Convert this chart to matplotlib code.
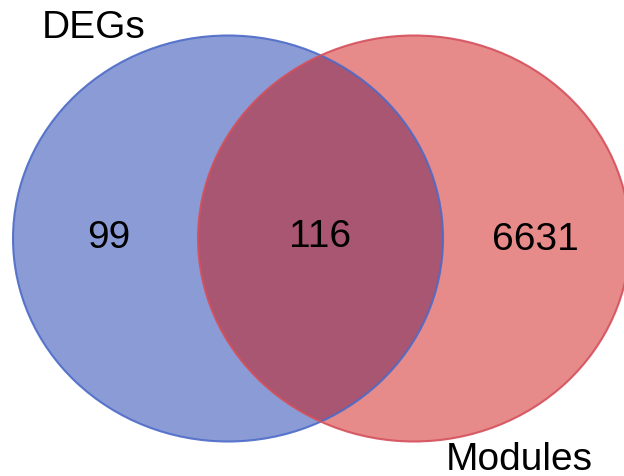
import matplotlib
matplotlib.use("Agg")
import matplotlib.pyplot as plt
from matplotlib.patches import Ellipse

set_names = ["DEGs", "Modules"]
counts = ["99", "116", "6631"]  # only DEGs, both, only Modules

plt.rcParams['font.family'] = ['Liberation Sans', 'DejaVu Sans']

fig = plt.figure(figsize=(6.24, 4.77), dpi=100)
ax = fig.add_axes([0, 0, 1, 1])
ax.set_xlim(0, 624)
ax.set_ylim(477, 0)
ax.axis('off')

blue_fill = '#8b9bd6'
red_fill = '#e68a8a'
mid_fill = '#a85671'
blue_edge = '#4d6bc8'
red_edge = '#d4505c'

bc, bw, bh = (228, 239.5), 430, 406
rc, rw, rh = (414, 239.5), 432, 406

b = Ellipse(bc, bw, bh, facecolor=blue_fill, edgecolor='none', zorder=1)
r = Ellipse(rc, rw, rh, facecolor=red_fill, edgecolor='none', zorder=2)
ax.add_patch(b)
ax.add_patch(r)
m = Ellipse(bc, bw, bh, facecolor=mid_fill, edgecolor='none', zorder=3)
ax.add_patch(m)
m.set_clip_path(r)
be = Ellipse(bc, bw, bh, facecolor='none', edgecolor=blue_edge, lw=1.5, zorder=4, alpha=0.9)
re = Ellipse(rc, rw, rh, facecolor='none', edgecolor=red_edge, lw=1.5, zorder=4, alpha=0.9)
ax.add_patch(be)
ax.add_patch(re)

fs = 28
ax.text(109, 238, counts[0], ha='center', va='center', fontsize=fs, zorder=5)
ax.text(320, 237, counts[1], ha='center', va='center', fontsize=fs, zorder=5)
ax.text(535, 240, counts[2], ha='center', va='center', fontsize=fs, zorder=5)
ax.text(94, 28, set_names[0], ha='center', va='center', fontsize=fs, zorder=5)
ax.text(519, 460, set_names[1], ha='center', va='center', fontsize=fs, zorder=5)

fig.savefig('out.png', dpi=100)
